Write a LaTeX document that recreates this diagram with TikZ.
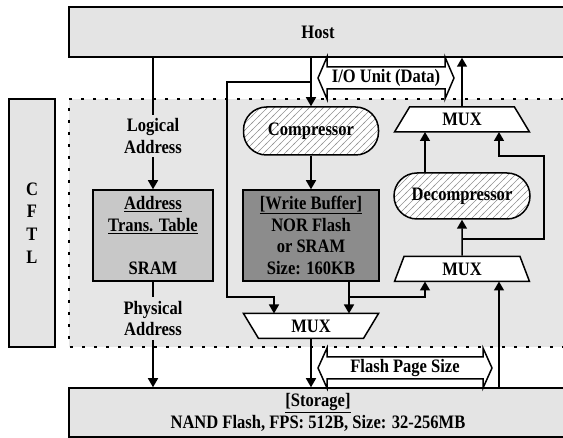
\documentclass[tikz,border=0pt]{standalone}
\usepackage{fontspec}
\setmainfont{Liberation Serif}[FakeStretch=0.87]
\usetikzlibrary{arrows.meta,shapes.geometric,patterns.meta,calc}
\tikzdeclarepattern{name=hatch, type=uncolored,
  bounding box={(-1pt,-1pt) and (8pt,8pt)}, tile size={(7pt,7pt)},
  code={\draw[line width=0.6pt] (-1pt,-1pt) -- (8pt,8pt);}}
\definecolor{boxgray}{HTML}{E4E4E4}
\definecolor{regiongray}{HTML}{E6E6E6}
\definecolor{tablegray}{HTML}{C8C8C8}
\definecolor{bufgray}{HTML}{8C8C8C}
\begin{document}
\begin{tikzpicture}[x=1pt,y=-1pt,
  font=\bfseries\fontsize{19}{21.7}\selectfont,
  line width=1.5pt,
  arr/.style={-{Triangle[length=9pt,width=10pt]}},
  dotline/.style={line width=2pt, dash pattern=on 3pt off 9pt},
  box/.style={draw, rectangle, inner sep=0pt, align=center},
  pill/.style={draw, rectangle, rounded corners=23pt, inner sep=0pt,
    preaction={fill=white}, pattern=hatch, pattern color=gray!85},
  mux/.style={draw, fill=white, trapezium, trapezium stretches body,
    inner sep=0pt, minimum height=25pt, minimum width=135pt},
  lbl/.style={inner sep=3pt, align=center},
  bigarrow/.style={draw, fill=white, line width=1.5pt}]
\useasboundingbox (0,0) rectangle (563,438);
\clip (0,0) rectangle (563,438);

% CFTL region
\fill[regiongray] (69,99) rectangle (600,347);
\draw[dotline] (600,99) -- (69,99) -- (69,347) -- (600,347);

% main boxes
\node[box, fill=boxgray, minimum width=498pt, minimum height=50pt] (host) at (318,32) {Host};
\node[box, fill=boxgray, minimum width=498pt, minimum height=49pt] (stor) at (318,412.5)
  {\underline{[Storage]}\\NAND Flash, FPS: 512B, Size: 32-256MB};
\node[box, fill=boxgray, minimum width=46pt, minimum height=248pt,
  font=\bfseries\fontsize{19}{22.7}\selectfont] (cftl) at (32,223) {C\\F\\T\\L};

\node[box, fill=tablegray, minimum width=120pt, minimum height=91pt] (att) at (153,235.5)
  {\underline{Address}\\\underline{Trans. Table}\\[21.7pt]SRAM};
\node[box, fill=bufgray, minimum width=136pt, minimum height=91pt] (wb) at (311,235.5)
  {\underline{[Write Buffer]}\\NOR Flash\\or SRAM\\Size: 160KB};

\node[pill, minimum width=135pt, minimum height=48pt] (comp) at (311,131) {Compressor};
\node[pill, minimum width=136pt, minimum height=46pt] (dec) at (462,196) {Decompressor};

\node[mux, trapezium angle=40] (m1) at (462,119.5) {MUX};
\node[mux, trapezium angle=53] (m2) at (462,269) {MUX};
\node[mux, trapezium angle=40, shape border rotate=180] (m3) at (311,326) {MUX};

% mux ports
\coordinate (m1a) at (425,132);
\coordinate (m1b) at (499,132);
\coordinate (m2a) at (425,281.5);
\coordinate (m2b) at (499,281.5);
\coordinate (m3a) at (274,313.5);
\coordinate (m3b) at (349,313.5);
\coordinate (m3o) at (311,338.5);

% labels
\node[lbl] (la) at (153,136) {Logical\\Address};
\node[lbl] (pa) at (153,318.5) {Physical\\Address};

% big double arrows
\draw[bigarrow] (318,78) -- (327,57) -- (327,67) -- (445,67) -- (445,57) -- (454,78)
  -- (445,99) -- (445,89) -- (327,89) -- (327,99) -- cycle;
\node (io) at (386,78) {I/O Unit (Data)};
\draw[bigarrow] (318,368) -- (327,348) -- (327,357) -- (483,357) -- (483,348) -- (492,368)
  -- (483,388) -- (483,379) -- (327,379) -- (327,388) -- cycle;
\node (fps) at (405,368) {Flash Page Size};

% connectors
\draw (host.south -| la.north) -- (la.north);
\draw[arr] (la.south) -- (att.north);
\draw (att.south) -- (pa.north);
\draw[arr] (pa.south) -- (stor.north -| pa.south);

\draw[arr] (host.south -| comp.north) -- (comp.north);
\coordinate (hs) at (311,82);
\draw[arr] (hs) -| (227,297) -| (m3a);
\draw[arr] (comp.south) -- (wb.north);
\draw[arr] (wb.south -| m3b) -- (m3b);
\coordinate (ws) at (349,297);
\draw[arr] (ws) -| (m2a);
\draw[arr] (m3o) -- (m3o |- stor.north);
\draw[arr] (stor.north -| m2b) -- (m2b);

\draw[arr] (m2.north) -- (dec.south);
\coordinate (jn) at (462,239);
\draw[arr] (jn) -- (544,239) -- (544,156) -- (499,156) -- (m1b);
\draw[arr] (dec.north -| m1a) -- (m1a);
\draw[arr] (m1.north) -- (m1.north |- host.south);
\end{tikzpicture}
\end{document}
